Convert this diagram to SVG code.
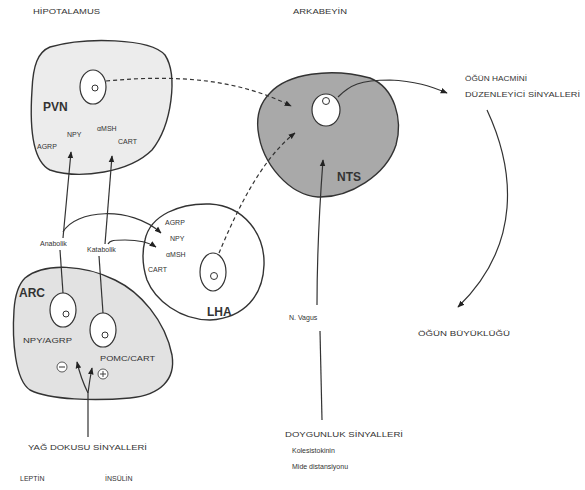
<svg xmlns="http://www.w3.org/2000/svg" width="585" height="490" viewBox="0 0 585 490">
<defs>
<style>
.t{font-family:"Liberation Sans",Arial,sans-serif;font-size:7px;fill:#333}
.b{font-family:"Liberation Sans",Arial,sans-serif;font-size:12px;font-weight:bold;fill:#333}
.ln{fill:none;stroke:#333;stroke-width:1.2}
.ds{fill:none;stroke:#333;stroke-width:1.2;stroke-dasharray:4 3}
.sh{stroke:#333;stroke-width:1.4}
.in{fill:#fff;stroke:#333;stroke-width:1.2}
.o{fill:none;stroke:#333;stroke-width:1}
</style>
<marker id="ah" viewBox="0 0 10 10" refX="9" refY="5" markerWidth="7" markerHeight="7" orient="auto" markerUnits="userSpaceOnUse">
<path d="M0,1 L10,5 L0,9 Z" fill="#222"/>
</marker>
</defs>
<rect width="585" height="490" fill="#fff"/>

<text class="t" x="33" y="14" textLength="67" lengthAdjust="spacingAndGlyphs">HİPOTALAMUS</text>
<text class="t" x="293" y="14" textLength="54" lengthAdjust="spacingAndGlyphs">ARKABEYİN</text>

<g id="PVN">
<path class="sh" fill="#ececec" d="M50,47 C85,37 150,38 165,55 C178,75 172,125 152,150 C130,172 80,180 50,170 C30,160 30,120 32,90 C33,65 38,52 50,47 Z"/>
<ellipse class="in" cx="93" cy="87" rx="13" ry="17"/>
<circle class="o" cx="95" cy="88" r="3"/>
<text class="b" x="43" y="111">PVN</text>
<text class="t" x="67" y="137" font-size="6">NPY</text>
<text class="t" x="37" y="149" font-size="6">AGRP</text>
<text class="t" x="97" y="131" font-size="6">αMSH</text>
<text class="t" x="118" y="144" font-size="6">CART</text>
</g>

<g id="NTS">
<path class="sh" fill="#a9a9a9" d="M270,93 C287,74 330,67 370,78 C395,88 403,120 396,145 C386,175 350,198 318,197 C290,195 262,165 258,130 C256,112 262,101 270,93 Z"/>
<ellipse class="in" cx="326" cy="110" rx="14" ry="16"/>
<circle class="o" cx="326" cy="101" r="3.5"/>
<text class="b" x="337" y="181">NTS</text>
</g>

<g id="LHA">
<path class="sh" fill="#fff" d="M145,240 C150,215 180,203 210,204 C245,206 265,235 264,265 C263,295 245,318 210,320 C180,320 155,300 147,280 C142,265 142,252 145,240 Z"/>
<ellipse class="in" cx="213" cy="272" rx="13" ry="19"/>
<circle class="o" cx="214" cy="276" r="3.5"/>
<text class="b" x="207" y="316">LHA</text>
<text class="t" x="165" y="225" font-size="6">AGRP</text>
<text class="t" x="170" y="241" font-size="6">NPY</text>
<text class="t" x="166" y="257" font-size="6">αMSH</text>
<text class="t" x="148" y="272" font-size="6">CART</text>
</g>

<g id="ARC">
<path class="sh" fill="#e2e2e2" d="M25,278 C45,262 85,265 115,280 C140,292 165,320 172,355 C176,380 160,395 130,398 C95,401 50,400 30,390 C15,380 12,340 14,310 C15,295 18,285 25,278 Z"/>
<ellipse class="in" cx="63" cy="310" rx="13" ry="17"/>
<circle class="o" cx="66" cy="314" r="3"/>
<ellipse class="in" cx="103" cy="330" rx="13" ry="17"/>
<circle class="o" cx="105" cy="335" r="3"/>
<text class="b" x="19" y="297">ARC</text>
<text class="t" x="23" y="343" font-size="6" textLength="49" lengthAdjust="spacingAndGlyphs">NPY/AGRP</text>
<text class="t" x="100" y="361" font-size="6" textLength="55" lengthAdjust="spacingAndGlyphs">POMC/CART</text>
<circle cx="62" cy="367" r="5" fill="#fff" stroke="#333" stroke-width="0.8"/>
<line x1="59" y1="367" x2="65" y2="367" stroke="#333" stroke-width="1"/>
<circle cx="103" cy="374" r="5" fill="#fff" stroke="#333" stroke-width="0.8"/>
<line x1="100" y1="374" x2="106" y2="374" stroke="#333" stroke-width="0.9"/>
<line x1="103" y1="371" x2="103" y2="377" stroke="#333" stroke-width="0.9"/>
</g>

<g id="labels">
<text class="t" x="40" y="246" font-size="6.5">Anabolik</text>
<text class="t" x="87" y="252" font-size="6.5">Katabolik</text>
<text class="t" x="465" y="81" textLength="62" lengthAdjust="spacingAndGlyphs">ÖĞÜN HACMİNİ</text>
<text class="t" x="465" y="97" textLength="115" lengthAdjust="spacingAndGlyphs">DÜZENLEYİCİ SİNYALLERİ</text>
<text class="t" x="418" y="336" textLength="92" lengthAdjust="spacingAndGlyphs">ÖĞÜN BÜYÜKLÜĞÜ</text>
<text class="t" x="289" y="320">N. Vagus</text>
<text class="t" x="285" y="437" textLength="118" lengthAdjust="spacingAndGlyphs">DOYGUNLUK SİNYALLERİ</text>
<text class="t" x="292" y="453">Kolesistokinin</text>
<text class="t" x="292" y="469">Mide distansiyonu</text>
<text class="t" x="28" y="450" textLength="119" lengthAdjust="spacingAndGlyphs">YAĞ DOKUSU SİNYALLERİ</text>
<text class="t" x="20" y="481">LEPTİN</text>
<text class="t" x="105" y="481">İNSÜLİN</text>
</g>

<g id="connectors">
<path class="ds" d="M106,81 C180,74 240,80 291,106" marker-end="url(#ah)"/>
<path class="ds" d="M219,253 C235,215 260,160 295,133" marker-end="url(#ah)"/>
<path class="ln" d="M63,238 L71,152" marker-end="url(#ah)"/>
<path class="ln" d="M105,244 L112,156" marker-end="url(#ah)"/>
<path class="ln" d="M60,250 L63,293"/>
<path class="ln" d="M99,256 L103,313"/>
<path class="ln" d="M63,232 C75,210 130,205 161,233" marker-end="url(#ah)"/>
<path class="ln" d="M108,244 C110,240 115,240 125,240 C140,240 150,243 156,247" marker-end="url(#ah)"/>
<path class="ln" d="M88,437 L88,393 C84,385 80,375 77,362" marker-end="url(#ah)"/>
<path class="ln" d="M88,393 C89,385 90,378 92,368" marker-end="url(#ah)"/>
<path class="ln" d="M322,420 L320,331"/>
<path class="ln" d="M317,305 C317,250 320,200 323,160" marker-end="url(#ah)"/>
<path class="ln" d="M338,97 C350,85 360,80 390,80 C415,81 430,86 447,93" marker-end="url(#ah)"/>
<path class="ln" d="M487,110 C515,170 522,245 458,307" marker-end="url(#ah)"/>
</g>
</svg>
